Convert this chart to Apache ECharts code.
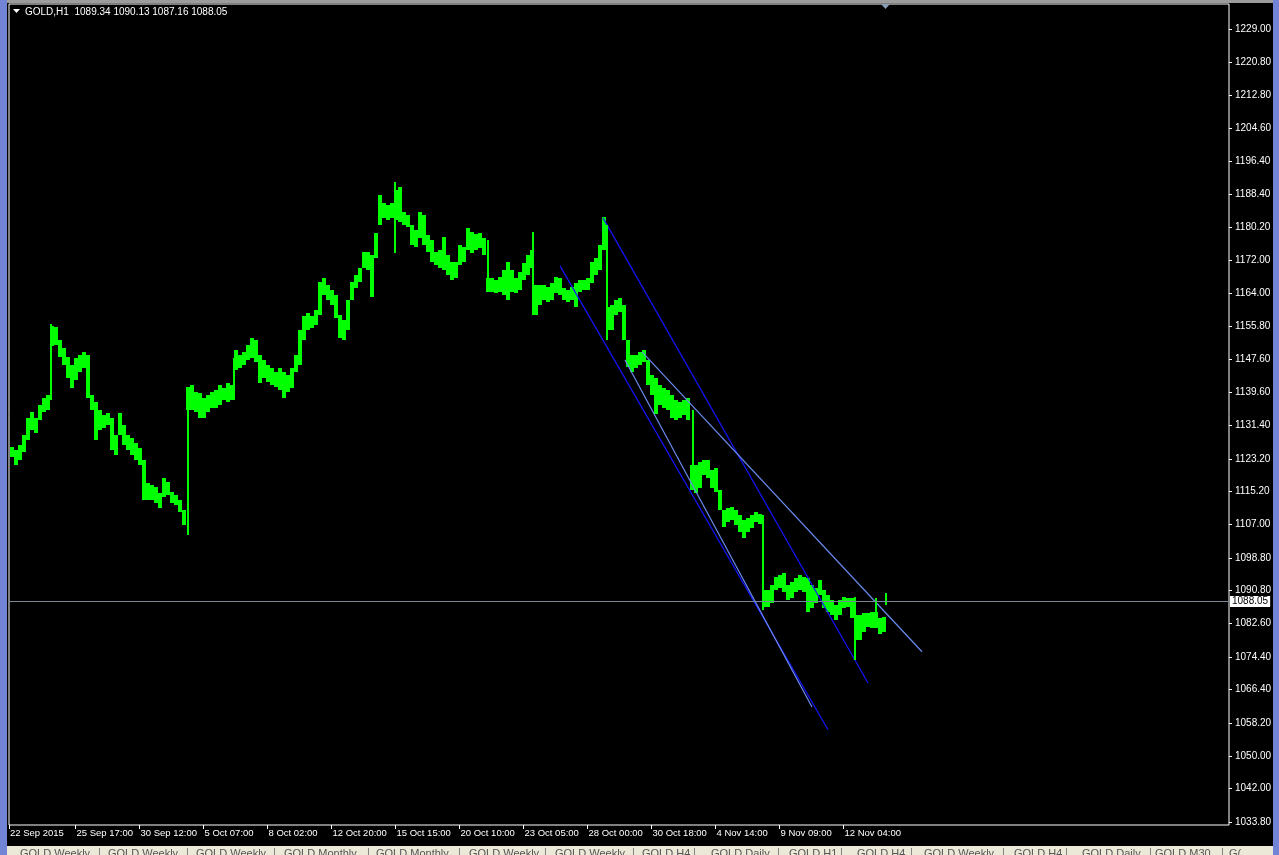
<!DOCTYPE html>
<html><head><meta charset="utf-8">
<script src="https://cdn.jsdelivr.net/npm/echarts@6/dist/echarts.min.js"></script>
<style>html,body{margin:0;padding:0;background:#000;overflow:hidden}#c{width:1279px;height:855px;}</style>
</head><body><div id="c"></div>
<script>
// ---------------- data ----------------
const symbolName = 'GOLD,H1';
const lastBarOHLC = [1089.34, 1090.13, 1087.16, 1088.05];
const barsPerGroup = 4; // each entry below summarises 4 consecutive H1 bars (high / low)

const groupHighs = [
1126.1,1125.4,1126.6,1129.1,1133.2,1134.7,1133.2,1136.4,1138.2,1138.9,
1156.0,1155.6,1152.4,1150.5,1148.3,1146.3,1148.0,1148.8,1149.5,1148.8,
1138.9,1137.2,1135.2,1134.0,1134.5,1133.2,1129.1,1134.5,1131.5,1129.1,
1128.3,1127.1,1125.9,1122.9,1117.2,1116.8,1116.3,1114.8,1118.5,1117.5,
1115.0,1114.3,1113.1,1110.6,1140.9,1141.4,1139.6,1139.4,1138.2,1138.9,
1139.6,1140.1,1141.4,1140.6,1141.9,1141.4,1150.0,1148.8,1149.5,1151.2,
1152.9,1152.4,1148.8,1147.5,1146.3,1145.6,1144.6,1145.6,1144.6,1143.8,
1145.6,1148.8,1154.9,1158.4,1159.1,1158.4,1159.8,1166.7,1167.7,1166.0,
1164.8,1163.5,1158.6,1157.4,1162.3,1166.7,1168.5,1170.2,1174.1,1174.1,
1173.4,1178.8,1188.1,1186.2,1185.7,1186.2,1189.4,1190.1,1184.0,1183.2,
1180.8,1179.5,1184.0,1183.2,1178.3,1177.1,1174.1,1174.6,1177.8,1173.4,
1171.6,1171.6,1175.8,1175.3,1180.0,1179.0,1178.5,1178.8,1177.6,1167.7,
1167.7,1167.2,1168.0,1169.7,1171.6,1169.7,1167.7,1169.2,1171.4,1173.4,
1174.6,1166.0,1166.0,1166.0,1165.5,1166.5,1168.0,1167.7,1165.3,1164.8,
1165.5,1166.5,1167.2,1167.2,1167.7,1171.6,1172.6,1175.8,1182.7,1160.6,
1161.1,1162.3,1162.8,1161.1,1152.4,1148.8,1148.8,1149.5,1150.0,1147.5,
1143.8,1143.1,1141.4,1140.6,1140.1,1138.9,1137.7,1137.2,1137.7,1138.2,
1121.7,1121.7,1122.4,1122.9,1122.9,1120.4,1120.9,1115.5,1110.6,1111.1,
1111.3,1110.6,1109.4,1108.1,1108.6,1109.4,1110.1,1109.6,1090.9,1090.9,
1092.1,1094.1,1094.6,1095.1,1092.1,1092.9,1093.9,1094.6,1094.1,1093.9,
1092.1,1091.4,1093.4,1090.9,1089.7,1088.5,1087.2,1088.5,1089.2,1088.9,
1088.9,1084.8,1084.8,1085.2,1085.2,1085.5,1085.5,1084.0,1084.3
];
const groupLows = [
1123.6,1121.7,1122.9,1124.9,1127.8,1130.3,1129.6,1132.8,1134.7,1135.2,
1151.0,1151.2,1148.3,1146.3,1143.1,1140.6,1142.6,1144.6,1145.6,1138.2,
1135.2,1127.8,1130.3,1130.8,1131.5,1125.4,1124.1,1129.1,1126.6,1125.4,
1124.1,1122.9,1121.7,1113.1,1113.1,1113.1,1112.3,1111.1,1113.8,1114.3,
1112.3,1111.8,1110.1,1106.9,1135.2,1135.2,1134.7,1133.2,1133.2,1134.7,
1135.7,1135.7,1136.4,1137.7,1137.2,1137.7,1145.1,1145.6,1146.3,1147.5,
1148.0,1147.0,1141.9,1143.1,1142.1,1141.4,1140.9,1140.1,1138.2,1139.6,
1140.6,1144.6,1146.3,1152.4,1154.9,1155.4,1156.1,1158.6,1163.5,1162.3,
1161.1,1157.9,1152.9,1152.4,1154.9,1162.3,1165.3,1166.7,1170.2,1169.7,
1163.0,1172.6,1180.8,1182.5,1182.0,1182.5,1182.0,1181.5,1180.8,1180.3,
1175.8,1175.3,1177.6,1175.8,1174.1,1171.6,1170.9,1170.2,1169.7,1168.5,
1167.2,1167.7,1170.9,1171.6,1174.6,1173.9,1174.6,1175.1,1173.4,1164.3,
1164.3,1164.0,1164.3,1163.5,1162.3,1164.3,1164.0,1164.8,1167.2,1168.5,
1170.2,1158.6,1161.1,1162.3,1161.8,1162.3,1164.0,1163.5,1162.3,1161.8,
1162.3,1160.6,1164.3,1164.8,1164.8,1166.5,1168.5,1169.7,1174.6,1154.9,
1154.9,1158.6,1159.3,1152.4,1145.8,1144.6,1145.6,1146.3,1147.0,1141.4,
1138.9,1134.2,1136.4,1135.7,1135.2,1133.2,1132.8,1133.2,1134.0,1132.8,
1115.5,1114.8,1116.0,1119.2,1118.5,1116.0,1115.0,1110.6,1106.4,1107.6,
1108.1,1106.9,1105.2,1103.7,1105.2,1106.2,1107.6,1107.2,1086.7,1086.7,
1087.7,1090.9,1091.4,1090.4,1088.5,1088.9,1090.4,1090.9,1090.4,1085.5,
1086.5,1087.7,1089.7,1086.5,1085.5,1084.8,1083.5,1084.8,1086.5,1086.7,
1084.0,1078.6,1078.6,1080.6,1081.8,1081.6,1081.6,1080.1,1080.6
];
// single H1 bars with large ranges (gaps / spikes): [bar index, low, high]
const spikeBars = [
  [40, 1137.7, 1156.4],
  [177, 1104.4, 1140.9],
  [223, 1137.7, 1148.0],
  [384, 1173.9, 1191.3],
  [477, 1164.8, 1177.1],
  [522, 1158.6, 1179.0],
  [596, 1152.4, 1180.8],
  [682, 1121.2, 1135.2],
  [752, 1086.0, 1109.4],
  [844, 1073.7, 1089.2],
  [865, 1081.6, 1088.9],
  [875, lastBarOHLC[2], lastBarOHLC[1]]
];

const yTickLabels = ['1229.00','1220.80','1212.80','1204.60','1196.40','1188.40','1180.20','1172.00',
  '1164.00','1155.80','1147.60','1139.60','1131.40','1123.20','1115.20','1107.00','1098.80',
  '1090.80','1082.60','1074.40','1066.40','1058.20','1050.00','1042.00','1033.80'];
const xTickLabels = ['22 Sep 2015','25 Sep 17:00','30 Sep 12:00','5 Oct 07:00','8 Oct 02:00',
  '12 Oct 20:00','15 Oct 15:00','20 Oct 10:00','23 Oct 05:00','28 Oct 00:00','30 Oct 18:00',
  '4 Nov 14:00','9 Nov 09:00','12 Nov 04:00'];
const xTickBars = [-1.5,65,129,193,257,321,385,449,513,577,641,705,769,833];

// trend lines [bar index, price]
const channelUpper = [[592.5,1182.5],[857.5,1068.0]];
const channelLower = [[549.5,1170.7],[817.5,1056.5]];
const innerUpper   = [[631.5,1149.5],[911.5,1075.7]];
const innerLower   = [[614.5,1147.5],[801.5,1062.1]];

const tabLabels = ['GOLD,Weekly','GOLD,Weekly','GOLD,Weekly','GOLD,Monthly','GOLD,Monthly',
  'GOLD,Weekly','GOLD,Weekly','GOLD,H4','GOLD,Daily','GOLD,H1','GOLD,H4','GOLD,Weekly',
  'GOLD,H4','GOLD,Daily','GOLD,M30','G('];

// ---------------- chart ----------------
const FONT = 'Tahoma, "Liberation Sans", "DejaVu Sans", sans-serif';
const groups = groupHighs.map((h, g) => [g * barsPerGroup + (barsPerGroup - 1) / 2, groupLows[g], h, barsPerGroup]);
const singles = spikeBars.map(b => [b[0], b[1], b[2], 1]);

const tabX = [20,108,196,284,376,469,555,642,711,789,857,924,1014,1082,1155,1229];
const tabSep = [98,186,273,367,458,544,632,693,777,840,910,1002,1065,1149,1221];
const graphics = [
  {type:'rect', shape:{x:0,y:0,width:1279,height:3}, style:{fill:'#9c9c9c'}, z:100},
  {type:'rect', shape:{x:0,y:0,width:7,height:855}, style:{fill:'#7284d6'}, z:101},
  {type:'rect', shape:{x:1273,y:0,width:6,height:855}, style:{fill:'#7284d6'}, z:101},
  {type:'rect', shape:{x:7,y:846,width:1266,height:9}, style:{fill:'#ece9d8'}, z:100},
  {type:'polygon', shape:{points:[[13,9],[20,9],[16.5,13]]}, style:{fill:'#ffffff'}, z:102},
  {type:'polygon', shape:{points:[[881,4],[890,4],[885.5,9]]}, style:{fill:'#8a9bb5'}, z:102}
];
tabLabels.forEach((t, i) => graphics.push({type:'text', x: tabX[i], y: 848, z:102,
  style:{text:t, fill:'#555', font:'11px ' + FONT, textVerticalAlign:'top'}}));
tabSep.forEach(x => graphics.push({type:'text', x: x, y: 847, z:102,
  style:{text:'|', fill:'#777', font:'11px ' + FONT, textVerticalAlign:'top'}}));

function trend(data, color) {
  return {type:'line', data, showSymbol:false, symbol:'none', silent:true,
    lineStyle:{color, width:1.2}, z:3, clip:true};
}
function renderBar(params, api) {
  const x = api.value(0), lo = api.value(1), hi = api.value(2), n = api.value(3);
  const p1 = api.coord([x, hi]), p2 = api.coord([x, lo]);
  const w = Math.max(2, Math.round(api.size([n, 0])[0]));
  const left = Math.round(p1[0] - w / 2);
  return {type:'rect', shape:{x:left, y:Math.round(p1[1]), width:w, height:Math.max(1, Math.round(p2[1] - p1[1]))},
    style:{fill:'#00ff00'}};
}

const chart = echarts.init(document.getElementById('c'), null, {renderer:'canvas'});
chart.setOption({
  backgroundColor:'#000',
  animation:false,
  title:{text: symbolName + '  ' + lastBarOHLC.map(v => v.toFixed(2)).join(' '),
    left:20, top:2, textStyle:{color:'#fff', fontSize:10, fontWeight:'normal', fontFamily:FONT}},
  grid:{left:9, right:50, top:4, bottom:30, show:true, borderColor:'#fff', borderWidth:1, backgroundColor:'transparent'},
  xAxis:{type:'value', min:-1.5, max:1218.5, splitLine:{show:false},
    axisLine:{show:false, onZero:false},
    axisTick:{show:true, length:4, lineStyle:{color:'#fff'}, customValues:xTickBars},
    axisLabel:{show:true, color:'#fff', fontSize:9.5, fontFamily:FONT, margin:3, align:'left', padding:[0,0,0,1],
      customValues:xTickBars,
      formatter:(v) => { let b = 0, d = 1e9; xTickBars.forEach((t, i) => { if (Math.abs(t - v) < d) { d = Math.abs(t - v); b = i; } }); return xTickLabels[b]; }}},
  yAxis:{type:'value', position:'right', min:1033.06, max:1235.15, splitLine:{show:false},
    axisLine:{show:false, onZero:false},
    axisTick:{show:true, length:3, lineStyle:{color:'#fff'}, customValues:yTickLabels.map(Number)},
    axisLabel:{show:true, color:'#fff', fontSize:10, fontFamily:FONT, margin:6,
      customValues:yTickLabels.map(Number), formatter:(v) => v.toFixed(2)}},
  graphic:graphics,
  series:[
    {type:'custom', data:groups, encode:{x:0, y:[1,2]}, clip:true, z:2, silent:true, renderItem:renderBar,
      markLine:{silent:true, symbol:'none', animation:false,
        lineStyle:{color:'#778899', width:1, type:'solid'},
        label:{show:true, position:'end', distance:1, formatter:() => lastBarOHLC[3].toFixed(2),
          color:'#000', backgroundColor:'#fff', padding:[1,2,0,2], fontSize:10, fontFamily:FONT},
        data:[{yAxis:lastBarOHLC[3]}]}},
    {type:'custom', data:singles, encode:{x:0, y:[1,2]}, clip:true, z:4, silent:true, renderItem:renderBar},
    trend(channelUpper, '#1515ff'),
    trend(channelLower, '#1515ff'),
    trend(innerUpper, '#6a8cf0'),
    trend(innerLower, '#6a8cf0')
  ]
});
</script></body></html>
